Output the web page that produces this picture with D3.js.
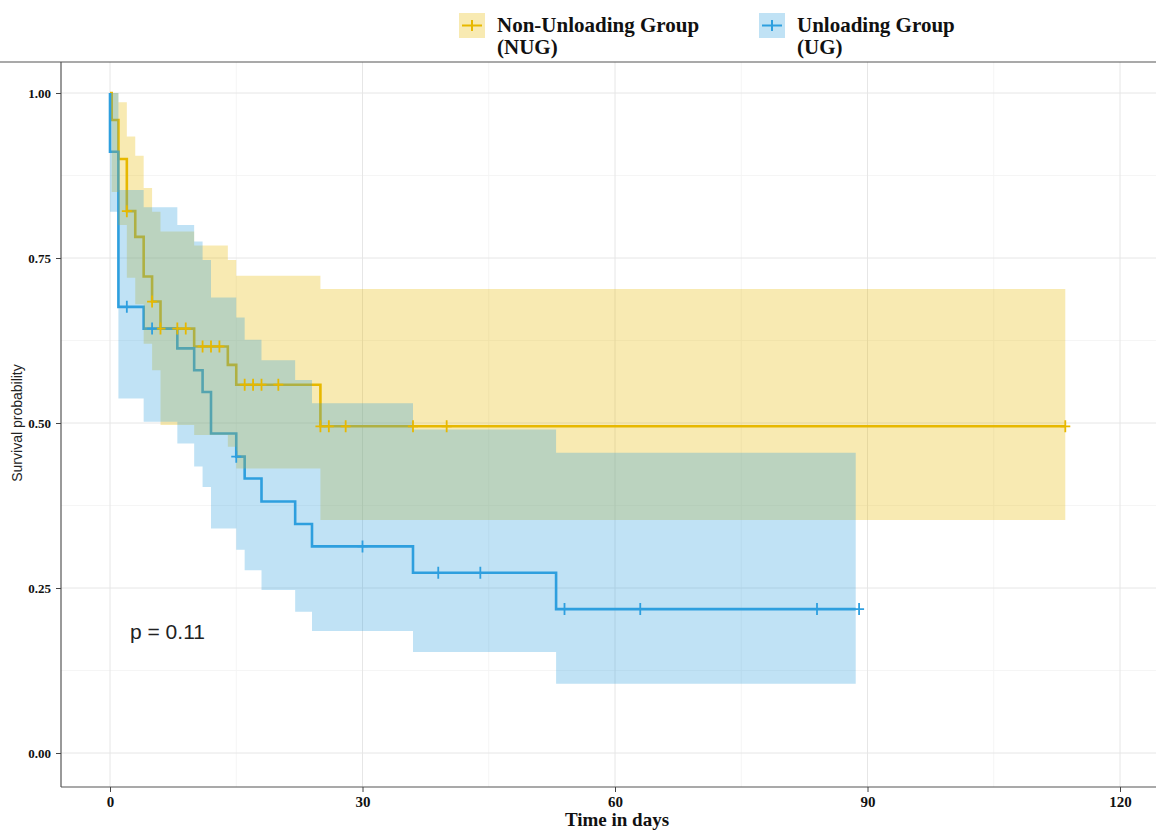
<!DOCTYPE html>
<html><head><meta charset="utf-8">
<script src="https://cdn.jsdelivr.net/npm/d3@7"></script>
<style>body{margin:0;background:#fff}svg{display:block}</style>
</head><body>
<svg id="c" width="1156" height="830"></svg>
<script>
// ---- data ----
const groups = ["Non-Unloading Group (NUG)", "Unloading Group (UG)"];
const colors = ["#E7B800", "#2E9FDF"];
// NUG step function
const nugTimes = [0, 0.2, 1, 2, 3, 4, 5, 6, 10, 14, 15, 25];
const nugSurv  = [1, 0.959, 0.900, 0.821, 0.782, 0.722, 0.684, 0.643, 0.616, 0.588, 0.558, 0.495];
const nugUpper = [1, 1.0, 0.986, 0.934, 0.905, 0.856, 0.82, 0.79, 0.769, 0.747, 0.723, 0.703];
const nugLower = [1, 0.850, 0.80, 0.72, 0.68, 0.62, 0.58, 0.497, 0.482, 0.464, 0.431, 0.353];
const nugEnd = 113.5;
const nugCensor = [2, 5, 6, 8, 9, 11, 12, 13, 16, 17, 18, 20, 25, 26, 28, 36, 40, 113.5];
// UG step function
const ugTimes = [0, 0, 1, 4, 8, 10, 11, 12, 15, 16, 18, 22, 24, 36, 53];
const ugSurv  = [1, 0.911, 0.676, 0.643, 0.613, 0.580, 0.547, 0.484, 0.449, 0.416, 0.381, 0.347, 0.313, 0.273, 0.218];
const ugUpper = [1, 1.0, 0.853, 0.827, 0.80, 0.775, 0.747, 0.69, 0.66, 0.626, 0.595, 0.565, 0.530, 0.490, 0.455];
const ugLower = [1, 0.82, 0.537, 0.502, 0.469, 0.434, 0.403, 0.340, 0.308, 0.277, 0.247, 0.214, 0.185, 0.153, 0.105];
const ugEnd = 88.6;
const ugCensor = [2, 5, 15, 30, 39, 44, 54, 63, 84, 89];
const xTicks = [0, 30, 60, 90, 120];
const xMinor = [15, 45, 75, 105];
const yTicks = [0, 0.25, 0.5, 0.75, 1];
const yMinor = [0.125, 0.375, 0.625, 0.875];
const pText = "p = 0.11";

// ---- layout ----
const svg = d3.select("#c");
const x = d3.scaleLinear().domain([0, 120]).range([110, 1120]);
const y = d3.scaleLinear().domain([0, 1]).range([753, 93]);
const P = {l: 61, r: 1156, t: 62, b: 787};

const serif = "'Liberation Serif','Times New Roman',serif";
const sans = "'Liberation Sans',Arial,sans-serif";

// grid
const g = svg.append("g");
g.selectAll(".xm").data(xMinor).join("line").attr("x1", d => x(d)).attr("x2", d => x(d))
  .attr("y1", P.t).attr("y2", P.b).attr("stroke", "#f2f2f2").attr("stroke-width", 0.8);
g.selectAll(".ym").data(yMinor).join("line").attr("y1", d => y(d)).attr("y2", d => y(d))
  .attr("x1", P.l).attr("x2", P.r).attr("stroke", "#f2f2f2").attr("stroke-width", 0.8);
g.selectAll(".xM").data(xTicks).join("line").attr("x1", d => x(d)).attr("x2", d => x(d))
  .attr("y1", P.t).attr("y2", P.b).attr("stroke", "#e6e6e6").attr("stroke-width", 1);
g.selectAll(".yM").data(yTicks).join("line").attr("y1", d => y(d)).attr("y2", d => y(d))
  .attr("x1", P.l).attr("x2", P.r).attr("stroke", "#e6e6e6").attr("stroke-width", 1);

function series(times, surv, end) {
  const pts = times.map((t, i) => [t, surv[i]]);
  pts.push([end, surv[surv.length - 1]]);
  return pts;
}
const lineGen = d3.line().x(d => x(d[0])).y(d => y(d[1])).curve(d3.curveStepAfter);
const areaGen = d3.area().x(d => x(d[0])).y0(d => y(d[1])).y1(d => y(d[2])).curve(d3.curveStepAfter);

const S = [
  {times: nugTimes, surv: nugSurv, up: nugUpper, lo: nugLower, end: nugEnd, cens: nugCensor, col: colors[0]},
  {times: ugTimes, surv: ugSurv, up: ugUpper, lo: ugLower, end: ugEnd, cens: ugCensor, col: colors[1]}
];

// lines
S.forEach(s => {
  svg.append("path").attr("d", lineGen(series(s.times, s.surv, s.end)))
    .attr("fill", "none").attr("stroke", s.col).attr("stroke-width", 2.6);
});
// ribbons (drawn over lines)
S.forEach(s => {
  const pts = s.times.map((t, i) => [t, s.lo[i], s.up[i]]);
  pts.push([s.end, s.lo[s.lo.length - 1], s.up[s.up.length - 1]]);
  svg.append("path").attr("d", areaGen(pts)).attr("fill", s.col).attr("fill-opacity", 0.3);
});
// censor marks
S.forEach(s => {
  s.cens.forEach(t => {
    const i = d3.bisectRight(s.times, t) - 1;
    const v = s.surv[i];
    const cx = x(t), cy = y(v);
    svg.append("path").attr("d", `M${cx-5},${cy}H${cx+5}M${cx},${cy-6}V${cy+6}`)
      .attr("stroke", s.col).attr("stroke-width", 1.8);
  });
});

// axes lines
svg.append("line").attr("x1", 0).attr("x2", 1156).attr("y1", P.t).attr("y2", P.t).attr("stroke", "#555").attr("stroke-width", 1.2);
svg.append("line").attr("x1", P.l).attr("x2", P.l).attr("y1", P.t).attr("y2", P.b).attr("stroke", "#555").attr("stroke-width", 1.2);
svg.append("line").attr("x1", P.l).attr("x2", P.r).attr("y1", P.b).attr("y2", P.b).attr("stroke", "#555").attr("stroke-width", 1.2);

// y axis
const ya = svg.append("g").attr("transform", `translate(${P.l},0)`)
  .call(d3.axisLeft(y).tickValues(yTicks).tickFormat(d3.format(".2f")).tickSize(5).tickPadding(5));
ya.select(".domain").remove();
ya.selectAll("line").attr("stroke", "#444");
ya.selectAll("text").attr("font-family", serif).attr("font-weight", "bold").attr("font-size", 13).attr("fill", "#111");
// x axis
const xa = svg.append("g").attr("transform", `translate(0,${P.b})`)
  .call(d3.axisBottom(x).tickValues(xTicks).tickFormat(d3.format("d")).tickSize(5).tickPadding(4));
xa.select(".domain").remove();
xa.selectAll("line").attr("stroke", "#444");
xa.selectAll("text").attr("font-family", serif).attr("font-weight", "bold").attr("font-size", 15).attr("fill", "#111");

svg.append("text").attr("x", 617).attr("y", 826).attr("text-anchor", "middle")
  .attr("font-family", serif).attr("font-weight", "bold").attr("font-size", 19).attr("fill", "#111").text("Time in days");
svg.append("text").attr("transform", "translate(22,423) rotate(-90)").attr("text-anchor", "middle")
  .attr("font-family", sans).attr("font-size", 14).attr("fill", "#222").text("Survival probability");

svg.append("text").attr("x", 130).attr("y", 639).attr("font-family", sans).attr("font-size", 21).attr("fill", "#222").text(pText);

// legend
const legX = [459, 759];
groups.forEach((name, i) => {
  const lx = legX[i], ly = 13;
  svg.append("rect").attr("x", lx).attr("y", ly).attr("width", 26).attr("height", 25)
    .attr("fill", colors[i]).attr("fill-opacity", 0.3);
  svg.append("path").attr("d", `M${lx+3},${ly+12.5}H${lx+23}M${lx+13},${ly+7}V${ly+18}`)
    .attr("stroke", colors[i]).attr("stroke-width", 2);
  const parts = name.split(" (");
  const t = svg.append("text").attr("font-family", serif).attr("font-weight", "bold")
    .attr("font-size", 21).attr("fill", "#111");
  t.append("tspan").attr("x", lx + 38).attr("y", 32).text(parts[0]);
  t.append("tspan").attr("x", lx + 38).attr("y", 54).text("(" + parts[1]);
});
</script>
</body></html>
